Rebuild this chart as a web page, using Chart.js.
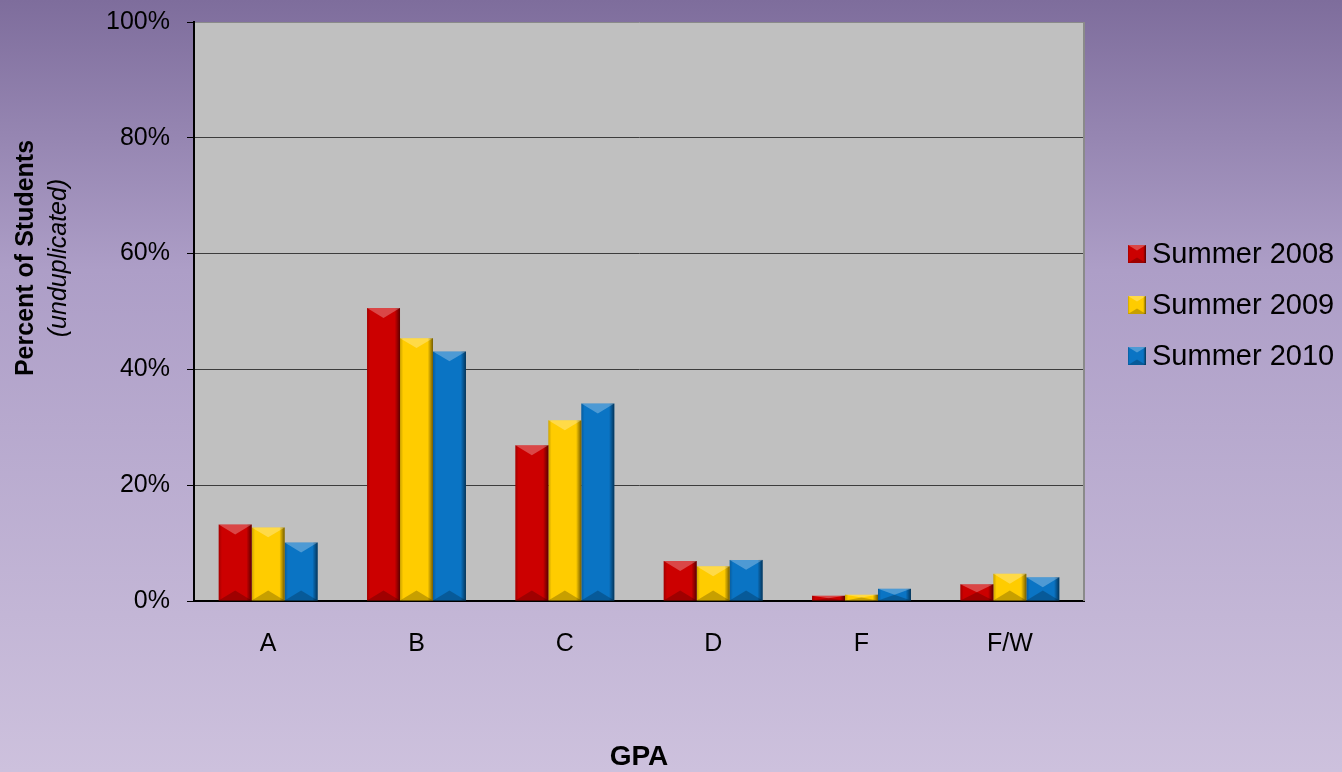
<!DOCTYPE html>
<html>
<head>
<meta charset="utf-8">
<script src="https://cdn.jsdelivr.net/npm/chart.js@4"></script>
<style>
  body { margin: 0; }
  #wrap { width: 1342px; height: 772px; }
</style>
</head>
<body>
<div id="wrap"><canvas id="gpaChart" width="1342" height="772"></canvas></div>
<script>
const categories = ['A', 'B', 'C', 'D', 'F', 'F/W'];
const seriesNames = ['Summer 2008', 'Summer 2009', 'Summer 2010'];
const summer2008 = [13.2, 50.6, 26.9, 6.9, 0.9, 2.9];
const summer2009 = [12.7, 45.4, 31.2, 6.0, 1.1, 4.7];
const summer2010 = [10.1, 43.1, 34.1, 7.1, 2.1, 4.1];
const yTicks = [0, 20, 40, 60, 80, 100];
const colors = ['#cc0000', '#ffcc00', '#0a74c4'];
const FONT = '"Liberation Sans", Arial, sans-serif';

// page background + plot area fill
const backdrop = {
  id: 'backdrop',
  beforeDraw(chart) {
    const c = chart.ctx, a = chart.chartArea;
    const g = c.createLinearGradient(0, 0, 0, chart.height);
    g.addColorStop(0, '#7e6d9c');
    g.addColorStop(0.35, '#ad9ec7');
    g.addColorStop(1, '#cdc1dd');
    c.save();
    c.fillStyle = g;
    c.fillRect(0, 0, chart.width, chart.height);
    c.fillStyle = '#c0c0c0';
    c.fillRect(a.left, a.top, a.right - a.left, a.bottom - a.top);
    c.restore();
  },
  beforeDatasetsDraw(chart) {
    const c = chart.ctx, a = chart.chartArea;
    c.save();
    c.strokeStyle = '#8a8a8a';
    c.lineWidth = 2;
    c.beginPath();
    c.moveTo(a.right, a.top);
    c.lineTo(a.right, a.bottom);
    c.stroke();
    c.restore();
  }
};

// bevelled look on each bar
function bevel(c, x0, x1, top, bot) {
  const w = x1 - x0, h = bot - top, cx = (x0 + x1) / 2;
  const b = Math.min(w * 0.3, h / 2);
  let g = c.createLinearGradient(x1 - w * 0.16, 0, x1, 0);
  g.addColorStop(0, 'rgba(0,0,0,0)');
  g.addColorStop(1, 'rgba(0,0,0,0.55)');
  c.fillStyle = g;
  c.fillRect(x1 - w * 0.16, top, w * 0.16, h);
  g = c.createLinearGradient(x0, 0, x0 + w * 0.1, 0);
  g.addColorStop(0, 'rgba(0,0,0,0.2)');
  g.addColorStop(1, 'rgba(0,0,0,0)');
  c.fillStyle = g;
  c.fillRect(x0, top, w * 0.1, h);
  c.fillStyle = 'rgba(255,255,255,0.28)';
  c.beginPath();
  c.moveTo(x0, top); c.lineTo(x1, top); c.lineTo(cx, top + b); c.closePath();
  c.fill();
  c.fillStyle = 'rgba(0,0,0,0.22)';
  c.beginPath();
  c.moveTo(x0, bot); c.lineTo(x1, bot); c.lineTo(cx, bot - b); c.closePath();
  c.fill();
}

const shading = {
  id: 'shading',
  afterDatasetsDraw(chart) {
    const c = chart.ctx;
    c.save();
    chart.data.datasets.forEach((ds, i) => {
      chart.getDatasetMeta(i).data.forEach(bar => {
        const p = bar.getProps(['x', 'y', 'base', 'width'], true);
        bevel(c, p.x - p.width / 2, p.x + p.width / 2, Math.min(p.y, p.base), Math.max(p.y, p.base));
      });
    });
    c.restore();
  }
};

// axis titles and legend
const labels = {
  id: 'labels',
  afterDraw(chart) {
    const c = chart.ctx, a = chart.chartArea;
    c.save();
    c.fillStyle = '#000';
    c.textAlign = 'center';
    c.textBaseline = 'middle';
    c.font = 'bold 28px ' + FONT;
    c.fillText('GPA', (a.left + a.right) / 2, 757);

    c.save();
    c.translate(0, 258);
    c.rotate(-Math.PI / 2);
    c.font = 'bold 25px ' + FONT;
    c.fillText('Percent of Students', 0, 26);
    c.font = 'italic 25px ' + FONT;
    c.fillText('(unduplicated)', 0, 59);
    c.restore();

    c.textAlign = 'left';
    c.font = '29px ' + FONT;
    seriesNames.forEach((name, i) => {
      const y = 254 + i * 51;
      c.fillStyle = colors[i];
      c.fillRect(1128, y - 9, 18, 18);
      bevel(c, 1128, 1146, y - 9, y + 9);
      c.fillStyle = '#000';
      c.fillText(name, 1152, y + 1);
    });
    c.restore();
  }
};

new Chart(document.getElementById('gpaChart'), {
  type: 'bar',
  data: {
    labels: categories,
    datasets: [
      { label: seriesNames[0], data: summer2008, backgroundColor: colors[0] },
      { label: seriesNames[1], data: summer2009, backgroundColor: colors[1] },
      { label: seriesNames[2], data: summer2010, backgroundColor: colors[2] }
    ]
  },
  options: {
    responsive: false,
    animation: false,
    categoryPercentage: 0.667,
    barPercentage: 1.0,
    layout: { padding: { left: 0, top: 22, right: 258, bottom: 0 } },
    plugins: { legend: { display: false }, tooltip: { enabled: false } },
    scales: {
      x: {
        afterFit(s) { s.height = 171; },
        grid: { display: false, drawTicks: false },
        border: { color: '#000', width: 2 },
        ticks: { color: '#000', padding: 28, font: { family: FONT, size: 25 } }
      },
      y: {
        min: 0,
        max: 100,
        afterFit(s) { s.width = 194; s.paddingTop = 0; s.paddingBottom = 0; },
        afterBuildTicks(s) { s.ticks = yTicks.map(v => ({ value: v })); },
        grid: {
          color: ctx => (ctx.tick && ctx.tick.value === 100 ? '#8a8a8a' : '#3c3c3c'),
          tickColor: '#000',
          tickLength: 7,
          lineWidth: 1
        },
        border: { color: '#000', width: 2 },
        ticks: {
          color: '#000',
          padding: 17,
          font: { family: FONT, size: 25 },
          callback: v => v + '%'
        }
      }
    }
  },
  plugins: [backdrop, shading, labels]
});
</script>
</body>
</html>
